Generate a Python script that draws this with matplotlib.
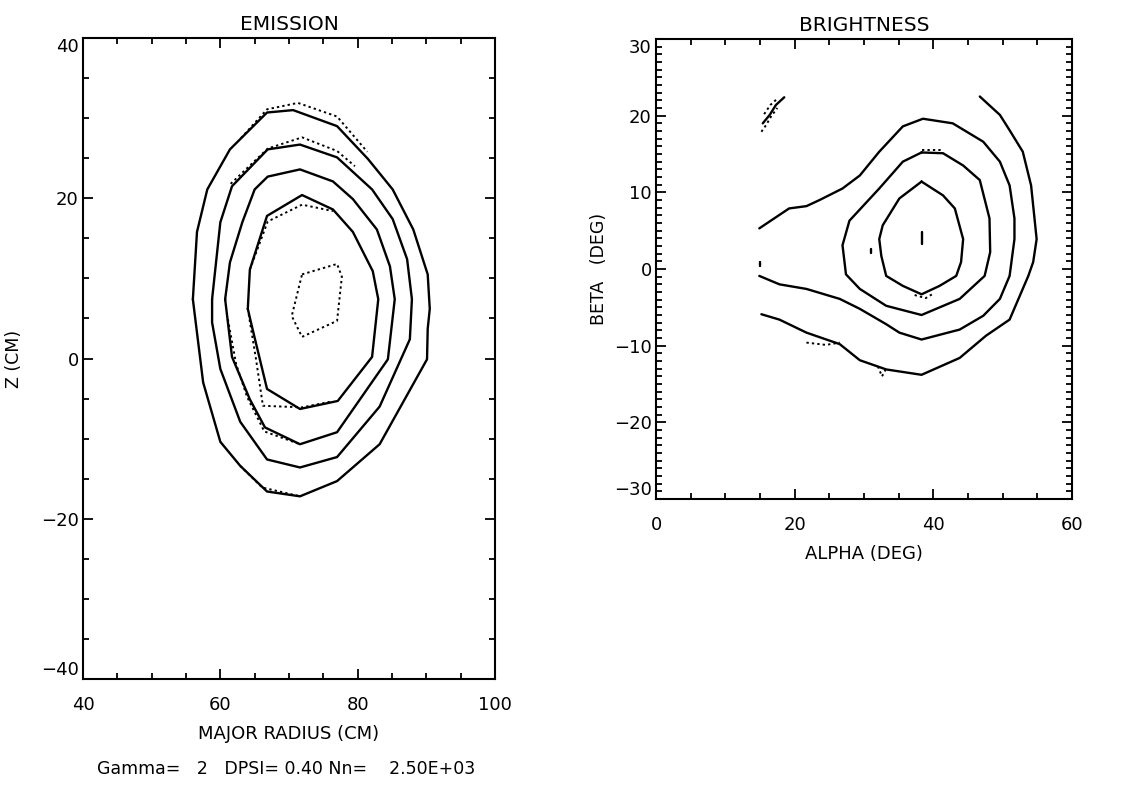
import matplotlib
matplotlib.use("Agg")
import matplotlib.pyplot as plt
from matplotlib.ticker import MultipleLocator

plt.rcParams['font.family'] = ['DejaVu Sans']

# ---------------- EMISSION panel data (major radius R [cm], Z [cm]) ----------------
em_c1_x = [56.0, 56.6, 58.1, 61.4, 66.8, 70.6, 77.0, 81.5, 85.1, 88.1, 90.2, 90.5, 90.2, 90.1,
           83.2, 77.0, 71.6, 66.8, 62.9, 60.0, 57.5, 56.3, 56.0]
em_c1_y = [7.4, 15.8, 21.1, 26.1, 30.7, 31.0, 29.0, 24.9, 21.1, 16.1, 10.5, 6.2, 3.7, -0.1,
           -10.7, -15.3, -17.2, -16.6, -13.4, -10.4, -3.0, 5.3, 7.4]
em_c2_x = [58.8, 58.8, 60.0, 62.9, 66.8, 71.6, 77.0, 83.2, 87.6, 87.9, 87.2, 85.1, 82.1,
           77.0, 71.6, 66.9, 61.7, 60.0, 58.8]
em_c2_y = [7.4, 4.5, -1.3, -7.9, -12.6, -13.6, -12.3, -6.0, 2.4, 7.4, 12.4, 17.4, 21.1,
           25.1, 26.7, 26.1, 21.5, 17.0, 7.4]
em_c3_x = [60.7, 61.7, 64.3, 66.5, 71.6, 77.0, 84.4, 85.4, 84.7, 82.8, 79.3, 76.4, 71.6,
           66.9, 65.0, 63.2, 61.4, 60.7]
em_c3_y = [7.4, 0.2, -5.1, -8.6, -10.7, -9.2, -0.1, 7.4, 11.5, 16.1, 19.9, 22.1, 23.6,
           22.7, 21.1, 17.0, 12.0, 7.4]
em_c4_x = [64.0, 64.6, 66.8, 71.6, 77.1, 82.1, 83.0, 82.2, 79.3, 76.4, 71.9, 66.8, 64.3, 64.0]
em_c4_y = [6.2, 4.0, -3.8, -6.3, -5.3, 0.2, 7.4, 10.9, 15.8, 18.6, 20.4, 17.8, 11.1, 6.2]

# dotted (second set of contours) where they depart from the solid ones
em_d1a_x = [63.0, 66.8, 71.3, 77.0, 81.4]
em_d1a_y = [27.5, 31.1, 31.9, 30.2, 25.8]
em_d1b_x = [62.9, 66.1, 71.6]
em_d1b_y = [-13.4, -16.1, -17.2]
em_d2_x = [61.5, 66.9, 71.9, 77.0, 79.6]
em_d2_y = [21.8, 26.2, 27.6, 25.9, 24.0]
em_d3_x = [61.1, 62.3, 63.9, 66.4, 71.6]
em_d3_y = [4.9, -0.7, -4.8, -9.1, -10.7]
em_d4a_x = [64.3, 66.9, 71.9, 76.4]
em_d4a_y = [11.1, 17.1, 19.2, 18.4]
em_d4b_x = [64.0, 65.2, 66.2, 71.9, 76.0]
em_d4b_y = [6.2, -0.1, -5.9, -6.1, -5.4]
em_d5_x = [71.9, 77.0, 77.7, 77.0, 71.9, 70.4, 71.9]
em_d5_y = [10.5, 11.8, 10.2, 4.7, 2.7, 5.3, 10.5]

# ---------------- BRIGHTNESS panel data (alpha, beta in deg) ----------------
br_c1_x = [46.7, 49.6, 51.0, 52.9, 54.1, 54.9, 54.4, 53.7, 51.0, 47.6, 43.8, 38.3, 33.2,
           29.4, 26.5, 21.7, 17.8, 15.2]
br_c1_y = [22.5, 20.1, 18.1, 15.3, 10.9, 3.9, 0.9, -0.9, -6.6, -8.7, -11.6, -13.8, -13.1,
           -11.9, -9.8, -8.3, -6.6, -5.9]
br_c2_x = [14.9, 19.2, 21.7, 23.6, 26.9, 29.4, 32.2, 35.6, 38.5, 42.8, 47.2, 49.6, 51.0,
           51.7, 51.7, 51.0, 49.6, 47.2, 43.8, 38.3, 35.1, 33.2, 29.4, 26.5, 21.7, 17.8, 14.9]
br_c2_y = [5.3, 7.9, 8.2, 9.0, 10.5, 12.2, 15.3, 18.6, 19.6, 19.0, 16.6, 14.0, 10.9,
           6.6, 3.9, -0.9, -3.9, -6.1, -7.9, -9.2, -8.3, -7.2, -5.2, -3.9, -2.6, -2.0, -0.9]
br_c3_x = [38.3, 41.4, 44.3, 46.7, 48.1, 48.2, 47.4, 43.8, 38.3, 33.2, 29.4, 27.4, 26.9,
           27.9, 32.2, 35.6, 38.3]
br_c3_y = [15.2, 15.1, 13.5, 11.6, 6.6, 2.2, -0.9, -3.9, -6.0, -4.8, -2.6, -0.7, 3.1,
           6.3, 10.5, 14.0, 15.2]
br_c4_x = [38.3, 41.4, 43.1, 44.3, 44.0, 43.3, 40.9, 38.3, 35.6, 33.2, 32.5, 32.2, 32.7,
           35.1, 38.3]
br_c4_y = [11.4, 9.6, 7.9, 3.9, 0.9, -0.9, -2.2, -3.3, -2.2, -0.9, 1.7, 3.9, 5.7, 9.2, 11.4]
br_c5_x = [15.4, 16.4, 17.3, 18.5]
br_c5_y = [19.0, 20.1, 21.4, 22.4]
br_c6_x = [38.3, 38.3]
br_c6_y = [3.3, 4.8]
br_c7_x = [31.0, 31.0]
br_c7_y = [2.1, 2.6]
br_c8_x = [15.0, 15.0]
br_c8_y = [0.4, 0.9]

br_d1_x = [21.7, 24.5, 26.5]
br_d1_y = [-9.6, -9.9, -9.6]
br_d2_x = [32.0, 32.6, 33.3]
br_d2_y = [-12.7, -14.0, -12.8]
br_d3_x = [38.3, 41.4]
br_d3_y = [15.5, 15.5]
br_d4_x = [37.3, 38.9, 40.0]
br_d4_y = [-3.4, -3.8, -3.2]
br_d5_x = [15.2, 15.9, 16.6, 17.5]
br_d5_y = [17.9, 18.8, 19.9, 21.0]
br_d6_x = [15.6, 16.5, 17.6]
br_d6_y = [20.2, 21.4, 22.3]

em_xticks = [40, 60, 80, 100]
em_yticks = [-40, -20, 0, 20, 40]
br_xticks = [0, 20, 40, 60]
br_yticks = [-30, -20, -10, 0, 10, 20, 30]

footer = "Gamma=   2   DPSI= 0.40 Nn=    2.50E+03"

W, H = 1132, 785
fig = plt.figure(figsize=(W / 100, H / 100), dpi=100)
fig.patch.set_facecolor('white')

SOLID = dict(color='black', lw=1.7, solid_joinstyle='round', solid_capstyle='round')
DOT = dict(color='black', lw=1.4, linestyle=(0, (1.2, 1.6)))


def style_axes(ax, xminor, yminor, xpad):
    for s in ax.spines.values():
        s.set_linewidth(1.5)
    ax.xaxis.set_minor_locator(MultipleLocator(xminor))
    ax.yaxis.set_minor_locator(MultipleLocator(yminor))
    ax.tick_params(which='both', direction='in', top=True, right=True, width=1.3,
                   labelsize=13, colors='black')
    ax.tick_params(which='major', length=7)
    ax.tick_params(which='minor', length=4)
    ax.tick_params(axis='x', which='major', pad=xpad)
    ax.tick_params(axis='y', which='major', pad=3)


# ---- left panel ----
ax1 = fig.add_axes([83 / W, 1 - 679 / H, 412 / W, 641 / H])
ax1.set_xlim(40, 100)
ax1.set_ylim(-40, 40)
for xs, ys in [(em_c1_x, em_c1_y), (em_c2_x, em_c2_y), (em_c3_x, em_c3_y), (em_c4_x, em_c4_y)]:
    ax1.plot(xs, ys, **SOLID)
for xs, ys in [(em_d1a_x, em_d1a_y), (em_d1b_x, em_d1b_y), (em_d2_x, em_d2_y),
               (em_d3_x, em_d3_y), (em_d4a_x, em_d4a_y), (em_d4b_x, em_d4b_y),
               (em_d5_x, em_d5_y)]:
    ax1.plot(xs, ys, **DOT)
ax1.set_xticks(em_xticks)
ax1.set_yticks(em_yticks)
style_axes(ax1, 5, 5, 12)
ax1.set_title("EMISSION", fontsize=14.5, pad=6)
ax1.set_xlabel("MAJOR RADIUS (CM)", fontsize=13, labelpad=8)
ax1.set_ylabel("Z (CM)", fontsize=12.5, labelpad=13)
fig.text(286 / W, 1 - 769 / H, footer, ha='center', va='center', fontsize=12.5)
yt = ax1.yaxis.get_major_ticks()
yt[0].label1.set_va('bottom')
yt[-1].label1.set_va('top')

# ---- right panel ----
ax2 = fig.add_axes([656 / W, 1 - 499 / H, 416 / W, 460 / H])
ax2.set_xlim(0, 60)
ax2.set_ylim(-30, 30)
for xs, ys in [(br_c1_x, br_c1_y), (br_c2_x, br_c2_y), (br_c3_x, br_c3_y), (br_c4_x, br_c4_y),
               (br_c5_x, br_c5_y), (br_c6_x, br_c6_y), (br_c7_x, br_c7_y), (br_c8_x, br_c8_y)]:
    ax2.plot(xs, ys, **SOLID)
for xs, ys in [(br_d1_x, br_d1_y), (br_d2_x, br_d2_y), (br_d3_x, br_d3_y), (br_d4_x, br_d4_y),
               (br_d5_x, br_d5_y), (br_d6_x, br_d6_y)]:
    ax2.plot(xs, ys, **DOT)
ax2.set_xticks(br_xticks)
ax2.set_yticks(br_yticks)
style_axes(ax2, 5, 1, 12)
ax2.set_title("BRIGHTNESS", fontsize=14.5, pad=6)
ax2.set_xlabel("ALPHA (DEG)", fontsize=13, labelpad=8)
ax2.set_ylabel("BETA   (DEG)", fontsize=12.5, labelpad=4)
yt2 = ax2.yaxis.get_major_ticks()
yt2[0].label1.set_va('bottom')
yt2[-1].label1.set_va('top')

fig.savefig("out.png", dpi=100, facecolor='white')
